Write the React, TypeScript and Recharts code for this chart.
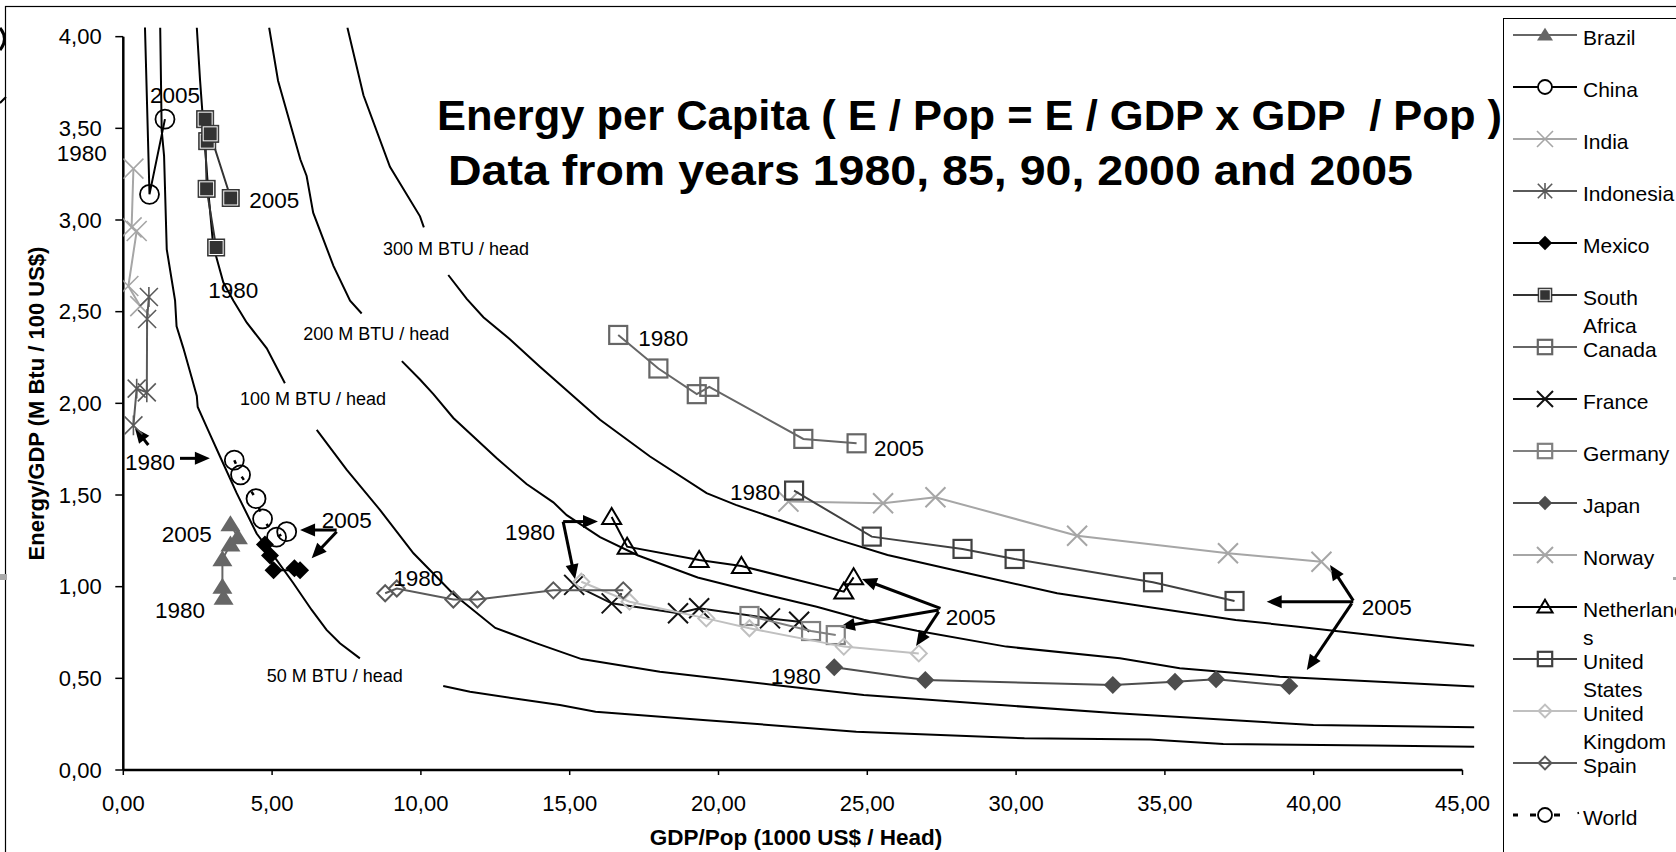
import React from 'react';
import { ScatterChart, Scatter, XAxis, YAxis, ReferenceLine, ReferenceDot, Legend } from 'recharts';

const FONT = "'Liberation Sans', Arial, Helvetica, sans-serif";
const TITLE_FONT = "'Liberation Sans Narrow', 'Liberation Sans', Arial, sans-serif";

// ---- axis ticks ----
const xTicks = [0, 5, 10, 15, 20, 25, 30, 35, 40, 45];
const yTicks = [0, 0.5, 1, 1.5, 2, 2.5, 3, 3.5, 4];

// ---- iso energy-per-capita curves (M BTU / head); split where labels cut them ----
const curve50a = [[1.24,4.05],[1.29,3.49],[1.37,3.35],[1.46,2.84],[1.63,2.67],[1.74,2.56],[1.79,2.42],[2.02,2.30],[2.30,2.14],[2.47,2.04],[2.50,1.98],[2.86,1.85],[3.25,1.71],[3.81,1.51],[4.48,1.29],[5.15,1.146],[5.71,1.02],[6.33,0.873],[6.83,0.764],[7.28,0.691],[7.95,0.609]];
const curve50b = [[10.75,0.458],[11.65,0.427],[13.33,0.386],[14.67,0.355],[15.87,0.318],[19.48,0.273],[24.63,0.209],[30.28,0.173],[34.5,0.167],[36.96,0.142],[42.0,0.133],[45.4,0.127]];
const curve100a = [[2.47,4.05],[2.58,3.76],[2.72,3.45],[2.86,3.15],[3.02,2.86],[3.36,2.66],[3.70,2.56],[4.15,2.44],[4.82,2.30],[5.43,2.11]];
const curve100b = [[6.50,1.855],[7.51,1.637],[8.63,1.418],[9.75,1.182],[11.09,0.960],[12.50,0.775],[13.89,0.691],[15.40,0.605],[18.03,0.536],[21.88,0.464],[24.88,0.409],[27.88,0.373],[33.39,0.309],[39.99,0.245],[45.4,0.233]];
const curve200a = [[4.90,4.05],[5.20,3.76],[5.95,3.33],[6.16,3.24],[6.38,3.04],[7.06,2.75],[7.62,2.56],[8.01,2.49]];
const curve200b = [[9.36,2.23],[9.97,2.13],[10.42,2.05],[11.09,1.92],[12.55,1.70],[13.55,1.56],[14.45,1.46],[14.9,1.39],[16.02,1.27],[17.3,1.17],[19.3,1.05],[21.5,0.96],[23.3,0.89],[24.88,0.82],[26.67,0.76],[29.67,0.673],[33.49,0.609],[35.5,0.555],[38.86,0.509],[45.4,0.455]];
const curve300a = [[7.53,4.05],[8.07,3.68],[8.96,3.29],[9.97,3.02],[10.10,2.96]];
const curve300b = [[10.92,2.70],[11.54,2.57],[12.10,2.47],[12.99,2.35],[14.0,2.20],[16.02,1.91],[17.70,1.71],[19.6,1.51],[20.58,1.446],[22.38,1.346],[24.03,1.255],[25.68,1.173],[28.38,1.073],[31.38,0.964],[34.38,0.891],[37.38,0.818],[39.48,0.782],[42.9,0.718],[45.4,0.678]];

// ---- country series: [GDP/Pop (1000 US$/head), Energy/GDP (M Btu / 100 US$)] ----
const brazil = [[3.37,0.94],[3.33,1.00],[3.33,1.15],[3.60,1.23],[3.85,1.27],[3.60,1.34]];
const china = [[0.57,5.0],[0.88,3.14],[1.40,3.55]];
const india = [[0.34,3.28],[0.28,2.96],[0.45,2.94],[0.17,2.64],[0.57,2.53]];
const indonesia = [[0.34,1.88],[0.45,2.08],[0.79,2.06],[0.80,2.46],[0.86,2.58]];
const mexico = [[4.76,1.23],[4.93,1.17],[5.05,1.09],[5.94,1.09],[5.75,1.10]];
const southAfrica = [[3.12,2.85],[2.80,3.17],[2.75,3.55],[2.82,3.43],[2.92,3.47],[3.61,3.12]];
const canada = [[16.63,2.373],[17.98,2.19],[19.27,2.05],[19.69,2.09],[22.85,1.806],[24.64,1.782]];
const france = [[15.15,1.01],[16.41,0.909],[18.64,0.855],[19.35,0.882],[21.73,0.827],[22.71,0.809]];
const germany = [[21.04,0.84],[23.11,0.758],[23.94,0.736]];
const japan = [[23.89,0.56],[26.95,0.491],[33.25,0.464],[35.34,0.482],[36.72,0.495],[39.18,0.458]];
const norway = [[22.35,1.464],[25.53,1.455],[27.29,1.488],[32.05,1.278],[37.12,1.182],[40.26,1.136]];
const netherlands = [[16.41,1.38],[16.93,1.218],[19.35,1.146],[20.77,1.113],[24.21,0.973],[24.54,1.051]];
const unitedStates = [[22.54,1.524],[25.15,1.273],[28.2,1.206],[29.95,1.151],[34.6,1.024],[37.34,0.922]];
const unitedKingdom = [[15.39,1.027],[17.01,0.918],[19.59,0.827],[21.04,0.773],[24.21,0.673],[26.73,0.636]];
const spain = [[8.80,0.964],[9.19,0.99],[11.09,0.93],[11.9,0.93],[14.45,0.98],[16.8,0.98]];
const world = [[3.73,1.69],[3.94,1.61],[4.46,1.48],[4.68,1.37],[5.15,1.27],[5.49,1.30]];

// ---- annotations (text left edge / vertical centre, in data units) ----
const yearLabels: [string, number, number][] = [
  ['2005',0.897,3.682],['1980',-2.24,3.368],['2005',4.234,3.110],['1980',2.856,2.619],
  ['1980',0.057,1.682],['2005',1.29,1.288],['1980',1.065,0.873],['2005',6.667,1.364],
  ['1980',9.073,1.046],['1980',12.826,1.300],['1980',17.305,2.355],['2005',25.225,1.755],
  ['1980',20.386,1.518],['2005',27.634,0.836],['1980',21.754,0.513],['2005',41.613,0.891],
];
const curveLabels: [string, number, number][] = [
  ['300 M BTU / head',8.727,2.846],['200 M BTU / head',6.048,2.382],
  ['100 M BTU / head',3.921,2.028],['50 M BTU / head',4.819,0.518],
];
const arrows: [number, number, number, number][] = [
  [0.84,1.773,0.39,1.866],[1.905,1.70,2.91,1.70],[7.17,1.309,5.94,1.309],[7.17,1.30,6.33,1.155],
  [14.78,1.355,15.95,1.355],[14.78,1.355,15.18,1.04],[27.46,0.882,24.82,1.042],[27.40,0.873,24.08,0.78],
  [27.40,0.864,26.64,0.676],[41.33,0.918,38.42,0.918],[41.33,0.924,40.55,1.118],[41.28,0.909,39.77,0.546],
];

const toPts = (a: number[][]) => a.map(([x, y]) => ({ x, y }));
const fmt = (v: number) => v.toFixed(2).replace('.', ',');

type Kind = 'triFill' | 'triOpen' | 'circle' | 'x' | 'star' | 'diaFill' | 'diaOpen' | 'sqOpen' | 'sqDark';
interface SeriesDef { name: string; data: number[][]; color: string; kind: Kind; label: string[]; dash?: boolean; thin?: boolean }

const series: SeriesDef[] = [
  { name: 'Brazil', data: brazil, color: '#666666', kind: 'triFill', label: ['Brazil'] },
  { name: 'China', data: china, color: '#000000', kind: 'circle', label: ['China'] },
  { name: 'India', data: india, color: '#a6a6a6', kind: 'x', label: ['India'], thin: true },
  { name: 'Indonesia', data: indonesia, color: '#5a5a5a', kind: 'star', label: ['Indonesia'], thin: true },
  { name: 'Mexico', data: mexico, color: '#000000', kind: 'diaFill', label: ['Mexico'] },
  { name: 'South Africa', data: southAfrica, color: '#333333', kind: 'sqDark', label: ['South', 'Africa'] },
  { name: 'Canada', data: canada, color: '#666666', kind: 'sqOpen', label: ['Canada'] },
  { name: 'France', data: france, color: '#111111', kind: 'x', label: ['France'] },
  { name: 'Germany', data: germany, color: '#808080', kind: 'sqOpen', label: ['Germany'] },
  { name: 'Japan', data: japan, color: '#4d4d4d', kind: 'diaFill', label: ['Japan'] },
  { name: 'Norway', data: norway, color: '#a6a6a6', kind: 'x', label: ['Norway'] },
  { name: 'Netherlands', data: netherlands, color: '#000000', kind: 'triOpen', label: ['Netherland', 's'] },
  { name: 'United States', data: unitedStates, color: '#404040', kind: 'sqOpen', label: ['United', 'States'] },
  { name: 'United Kingdom', data: unitedKingdom, color: '#c0c0c0', kind: 'diaOpen', label: ['United', 'Kingdom'] },
  { name: 'Spain', data: spain, color: '#5a5a5a', kind: 'diaOpen', label: ['Spain'] },
  { name: 'World', data: world, color: '#000000', kind: 'circle', label: ['World'], dash: true },
];

function marker(kind: Kind, color: string, cx: number, cy: number, s: number, thin?: boolean) {
  switch (kind) {
    case 'triFill':
      return <polygon points={`${cx},${cy - 9 * s} ${cx + 10 * s},${cy + 7 * s} ${cx - 10 * s},${cy + 7 * s}`} fill={color} />;
    case 'triOpen':
      return <polygon points={`${cx},${cy - 9 * s} ${cx + 9.5 * s},${cy + 7 * s} ${cx - 9.5 * s},${cy + 7 * s}`} fill="none" stroke={color} strokeWidth={2} />;
    case 'circle':
      return <circle cx={cx} cy={cy} r={9.5 * s} fill="none" stroke={color} strokeWidth={1.8} />;
    case 'x': {
      const d = 10 * s;
      return <path d={`M${cx - d},${cy - d}L${cx + d},${cy + d}M${cx - d},${cy + d}L${cx + d},${cy - d}`} stroke={color} strokeWidth={thin ? 1.6 : 2} fill="none" />;
    }
    case 'star': {
      const d = 9 * s;
      return <path d={`M${cx - d},${cy - d}L${cx + d},${cy + d}M${cx - d},${cy + d}L${cx + d},${cy - d}M${cx},${cy - d * 1.1}L${cx},${cy + d * 1.1}`} stroke={color} strokeWidth={1.6} fill="none" />;
    }
    case 'diaFill':
      return <polygon points={`${cx},${cy - 9 * s} ${cx + 9 * s},${cy} ${cx},${cy + 9 * s} ${cx - 9 * s},${cy}`} fill={color} />;
    case 'diaOpen':
      return <polygon points={`${cx},${cy - 8 * s} ${cx + 8 * s},${cy} ${cx},${cy + 8 * s} ${cx - 8 * s},${cy}`} fill="none" stroke={color} strokeWidth={2} />;
    case 'sqOpen': {
      const h = 9 * s;
      return <rect x={cx - h} y={cy - h} width={2 * h} height={2 * h} fill="none" stroke={color} strokeWidth={2.2} />;
    }
    case 'sqDark': {
      const h = 8.5 * s;
      return (
        <g>
          <rect x={cx - h} y={cy - h} width={2 * h} height={2 * h} fill={color} stroke={color} strokeWidth={1} />
          <rect x={cx - h + 1.5} y={cy - h + 1.5} width={2 * h - 3} height={2 * h - 3} fill="none" stroke="#fff" strokeWidth={1} />
        </g>
      );
    }
  }
  return <g />;
}

const noShape = () => <g />;

const Arrow = (p: any) => {
  const { x1, y1, x2, y2 } = p;
  const dx = x2 - x1, dy = y2 - y1;
  const L = Math.hypot(dx, dy) || 1;
  const ux = dx / L, uy = dy / L;
  const hl = 15, hw = 6.5;
  const bx = x2 - ux * hl, by = y2 - uy * hl;
  return (
    <g>
      <line x1={x1} y1={y1} x2={bx + ux * 2} y2={by + uy * 2} stroke="#000" strokeWidth={3} />
      <polygon points={`${x2},${y2} ${bx - uy * hw},${by + ux * hw} ${bx + uy * hw},${by - ux * hw}`} fill="#000" />
    </g>
  );
};

const AxisLine = (p: any) => <line x1={p.x1} y1={p.y1} x2={p.x2} y2={p.y2} stroke="#000" strokeWidth={2.5} />;

const LegendBox = () => (
  <svg width={180} height={840} style={{ display: 'block', overflow: 'visible' }}>
    <line x1={0.5} y1={0} x2={0.5} y2={840} stroke="#000" strokeWidth={1} />
    <line x1={0} y1={0.5} x2={180} y2={0.5} stroke="#000" strokeWidth={1} />
    {series.map((s, i) => {
      const cy = 17 + 52 * i;
      return (
        <g key={s.name}>
          {s.dash ? (
            <g stroke={s.color} strokeWidth={3}>
              <line x1={10} x2={15} y1={cy} y2={cy} />
              <line x1={27} x2={33} y1={cy} y2={cy} />
              <line x1={51} x2={57} y1={cy} y2={cy} />
              <line x1={75} x2={75.5} y1={cy - 3} y2={cy - 1} strokeWidth={1.5} />
            </g>
          ) : (
            <line x1={10} x2={74} y1={cy} y2={cy} stroke={s.color} strokeWidth={2} />
          )}
          {s.kind === 'circle'
            ? <circle cx={42} cy={cy} r={7} fill="#fff" stroke={s.color} strokeWidth={1.8} />
            : marker(s.kind, s.color, 42, cy, 0.8, s.thin)}
          {s.label.map((t, j) => (
            <text key={j} x={80} y={cy + 2 + j * 28} dy="0.36em" fontSize={21} fontFamily={FONT} fill="#000">{t}</text>
          ))}
        </g>
      );
    })}
  </svg>
);

export default function App() {
  const tickStyle = { fontSize: 22, fill: '#000', fontFamily: FONT };
  const curves = [curve50a, curve50b, curve100a, curve100b, curve200a, curve200b, curve300a, curve300b];
  return (
    <div style={{ position: 'absolute', left: 0, top: 0, width: 1676, height: 852, overflow: 'hidden', background: '#fff' }}>
      <ScatterChart width={1676} height={852} margin={{ top: 27.5, right: 201.6, bottom: 52, left: 63.3 }}>
        <XAxis type="number" dataKey="x" domain={[0, 45.4]} ticks={xTicks} interval={0} allowDataOverflow
          axisLine={false} tickLine={{ stroke: '#000', strokeWidth: 1.5 }} tickSize={5} tickMargin={20}
          tick={tickStyle} tickFormatter={fmt} height={30} />
        <YAxis type="number" dataKey="y" domain={[0, 4.05]} ticks={yTicks} interval={0} allowDataOverflow
          axisLine={false} tickLine={{ stroke: '#000', strokeWidth: 1.5 }} tickSize={8} tickMargin={13.6}
          tick={tickStyle} tickFormatter={fmt} width={60} />
        <ReferenceLine segment={[{ x: 0, y: 0 }, { x: 45, y: 0 }]} ifOverflow="visible" shape={AxisLine} />
        <ReferenceLine segment={[{ x: 0, y: 0 }, { x: 0, y: 4 }]} ifOverflow="visible" shape={AxisLine} />
        {curves.map((c, i) => (
          <Scatter key={'curve' + i} name={'curve' + i} data={toPts(c)} fill="#000" shape={noShape}
            line={{ stroke: '#000', strokeWidth: 2 }} lineType="joint" legendType="none" isAnimationActive={false} />
        ))}
        {series.map((s) => (
          <Scatter key={s.name} name={s.name} data={toPts(s.data)} fill={s.color}
            line={s.dash ? { stroke: s.color, strokeWidth: 2.5, strokeDasharray: '4 14' } : { stroke: s.color, strokeWidth: 2 }}
            lineType="joint" isAnimationActive={false}
            shape={(p: any) => (p.cx == null ? <g /> : marker(s.kind, s.color, p.cx, p.cy, 1, s.thin))} />
        ))}
        {arrows.map(([x1, y1, x2, y2], i) => (
          <ReferenceLine key={'ar' + i} segment={[{ x: x1, y: y1 }, { x: x2, y: y2 }]} ifOverflow="visible" shape={Arrow} />
        ))}
        {yearLabels.map(([t, x, y], i) => (
          <ReferenceDot key={'yl' + i} x={x} y={y} r={0} ifOverflow="visible"
            shape={(p: any) => <text x={p.cx} y={p.cy} dy="0.36em" fontSize={22.5} fontFamily={FONT} fill="#000">{t}</text>} />
        ))}
        {curveLabels.map(([t, x, y], i) => (
          <ReferenceDot key={'cl' + i} x={x} y={y} r={0} ifOverflow="visible"
            shape={(p: any) => <text x={p.cx} y={p.cy} dy="0.36em" fontSize={18} fontFamily={FONT} fill="#000">{t}</text>} />
        ))}
        <Legend layout="horizontal" align="center" verticalAlign="middle" content={LegendBox}
          wrapperStyle={{ position: 'absolute', left: 1503, top: 18, width: 180, height: 840, margin: 0, padding: 0 }} />
      </ScatterChart>
      <svg width={1676} height={852} style={{ position: 'absolute', left: 0, top: 0, pointerEvents: 'none' }}>
        <rect x={5.5} y={6.5} width={1800} height={900} fill="none" stroke="#000" strokeWidth={1.2} />
        <path d="M0,28 Q9,39 0,50" stroke="#000" strokeWidth={3} fill="none" />
        <line x1={0} y1={103} x2={6} y2={97} stroke="#000" strokeWidth={2} />
        <rect x={0} y={574} width={7} height={6} fill="#aaa" />
        <rect x={1673} y={577} width={3} height={3} fill="#aaa" />
        <text x={437} y={130} fontSize={42} fontWeight="bold" fontFamily={TITLE_FONT} fill="#000"
          textLength={1065} lengthAdjust="spacingAndGlyphs" style={{ whiteSpace: 'pre' }}>
          {'Energy per Capita ( E / Pop = E / GDP x GDP  / Pop )'}
        </text>
        <text x={448} y={185} fontSize={42} fontWeight="bold" fontFamily={TITLE_FONT} fill="#000"
          textLength={965} lengthAdjust="spacingAndGlyphs" style={{ whiteSpace: 'pre' }}>
          {'Data from years 1980, 85, 90, 2000 and 2005'}
        </text>
        <text transform="translate(43.5,403.5) rotate(-90)" textAnchor="middle" fontSize={22} fontWeight="bold" fontFamily={FONT} fill="#000">
          Energy/GDP (M Btu / 100 US$)
        </text>
        <text x={796} y={845} textAnchor="middle" fontSize={22.5} fontWeight="bold" fontFamily={FONT} fill="#000">
          GDP/Pop (1000 US$ / Head)
        </text>
      </svg>
    </div>
  );
}
